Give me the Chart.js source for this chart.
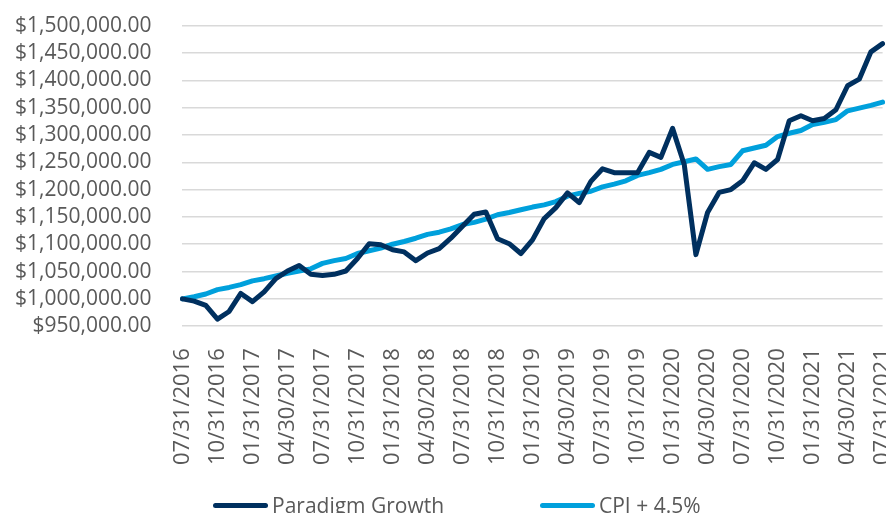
<!DOCTYPE html>
<html>
<head>
<meta charset="utf-8">
<script src="https://cdn.jsdelivr.net/npm/chart.js@4/dist/chart.umd.min.js"></script>
<style>
  html, body { margin: 0; padding: 0; background: #fff; overflow: hidden; }
  #wrap { position: absolute; left: 0; top: -18px; width: 931px; height: 531px; }
  #legend { position: absolute; top: 491px; left: 213px; font-family: "Open Sans", sans-serif;
            font-size: 21px; color: #595959; white-space: nowrap; }
  .item { position: absolute; top: 0; display: flex; align-items: center; }
  .swatch { width: 55px; height: 5px; border-radius: 3px; margin-right: 4px; }
</style>
</head>
<body>
<div id="wrap"><canvas id="growth"></canvas></div>
<div id="legend"></div>
<script>
var dates = [
  "07/31/2016", "08/31/2016", "09/30/2016", "10/31/2016", "11/30/2016", "12/31/2016",
  "01/31/2017", "02/28/2017", "03/31/2017", "04/30/2017", "05/31/2017", "06/30/2017",
  "07/31/2017", "08/31/2017", "09/30/2017", "10/31/2017", "11/30/2017", "12/31/2017",
  "01/31/2018", "02/28/2018", "03/31/2018", "04/30/2018", "05/31/2018", "06/30/2018",
  "07/31/2018", "08/31/2018", "09/30/2018", "10/31/2018", "11/30/2018", "12/31/2018",
  "01/31/2019", "02/28/2019", "03/31/2019", "04/30/2019", "05/31/2019", "06/30/2019",
  "07/31/2019", "08/31/2019", "09/30/2019", "10/31/2019", "11/30/2019", "12/31/2019",
  "01/31/2020", "02/29/2020", "03/31/2020", "04/30/2020", "05/31/2020", "06/30/2020",
  "07/31/2020", "08/31/2020", "09/30/2020", "10/31/2020", "11/30/2020", "12/31/2020",
  "01/31/2021", "02/28/2021", "03/31/2021", "04/30/2021", "05/31/2021", "06/30/2021",
  "07/31/2021"
];

var paradigm = [
  1000000, 996000, 988000, 963000, 977000, 1010000, 995000, 1013000, 1037000, 1051000,
  1061000, 1045000, 1043000, 1045000, 1051000, 1074000, 1101000, 1099000, 1090000, 1086000,
  1070000, 1084000, 1092000, 1111000, 1133000, 1155000, 1159000, 1110000, 1101000, 1083000,
  1108000, 1147000, 1167000, 1194000, 1176000, 1215000, 1238000, 1231000, 1231000, 1231000,
  1268000, 1259000, 1312000, 1246000, 1081000, 1158000, 1195000, 1200000, 1216000, 1249000,
  1237000, 1255000, 1326000, 1335000, 1326000, 1330000, 1346000, 1390000, 1402000, 1452000,
  1467000
];

var cpiPlus = [
  1000000, 1004000, 1009000, 1017000, 1021000, 1026000, 1033000, 1037000, 1042000, 1047000,
  1051000, 1055000, 1065000, 1070000, 1074000, 1083000, 1088000, 1093000, 1100000, 1105000,
  1111000, 1118000, 1122000, 1128000, 1136000, 1140000, 1146000, 1154000, 1158000, 1163000,
  1168000, 1172000, 1178000, 1188000, 1193000, 1197000, 1205000, 1210000, 1216000, 1226000,
  1231000, 1237000, 1246000, 1251000, 1256000, 1237000, 1242000, 1246000, 1271000, 1276000,
  1281000, 1297000, 1303000, 1308000, 1319000, 1323000, 1328000, 1344000, 1349000, 1354000,
  1360000
];

var seriesNames = ["Paradigm Growth", "CPI + 4.5%"];
var seriesColors = ["#00305f", "#00a0dc"];

function money(v) {
  return "$" + Number(v).toLocaleString("en-US", { minimumFractionDigits: 2, maximumFractionDigits: 2 });
}

var canvas = document.getElementById("growth");

new Chart(canvas, {
  type: "line",
  data: {
    labels: dates,
    datasets: [
      { label: seriesNames[0], data: paradigm, borderColor: seriesColors[0], backgroundColor: seriesColors[0],
        borderWidth: 5, pointRadius: 0, tension: 0, fill: false, borderJoinStyle: "round", borderCapStyle: "round" },
      { label: seriesNames[1], data: cpiPlus, borderColor: seriesColors[1], backgroundColor: seriesColors[1],
        borderWidth: 5, pointRadius: 0, tension: 0, fill: false, borderJoinStyle: "round", borderCapStyle: "round" }
    ]
  },
  options: {
    responsive: true,
    maintainAspectRatio: false,
    animation: false,
    layout: { padding: { top: -9, left: -16, right: 0, bottom: 26 } },
    plugins: {
      legend: { display: false },
      tooltip: { enabled: false }
    },
    scales: {
      x: {
        offset: false,
        grid: { display: false, drawTicks: false },
        border: { display: false },
        ticks: {
          autoSkip: false,
          maxRotation: 90,
          minRotation: 90,
          padding: 22,
          color: "#595959",
          font: { family: "Open Sans", size: 22 },
          callback: function (value, index) {
            return index % 3 === 0 ? dates[index] : null;
          }
        }
      },
      y: {
        min: 950000,
        max: 1500000,
        grid: { color: "#d9d9d9", lineWidth: 1.5, drawTicks: false },
        border: { display: false },
        ticks: {
          autoSkip: false,
          stepSize: 50000,
          padding: 31,
          color: "#595959",
          font: { family: "Open Sans", size: 21 },
          callback: function (value) { return money(value); }
        }
      }
    }
  }
});

// legend as plain text below the canvas
var legend = document.getElementById("legend");
var lefts = [0, 327];
seriesNames.forEach(function (name, i) {
  var item = document.createElement("div");
  item.className = "item";
  item.style.left = lefts[i] + "px";
  var sw = document.createElement("span");
  sw.className = "swatch";
  sw.style.background = seriesColors[i];
  var txt = document.createElement("span");
  txt.textContent = name;
  item.appendChild(sw);
  item.appendChild(txt);
  legend.appendChild(item);
});
</script>
</body>
</html>
